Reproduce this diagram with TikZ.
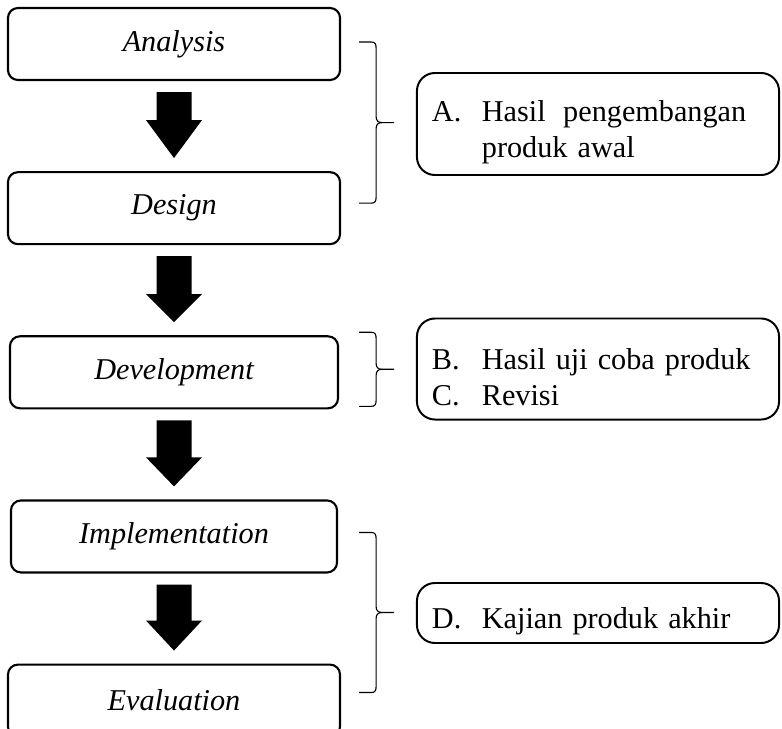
\documentclass[tikz,border=0pt]{standalone}
\usepackage{fontspec}
\setmainfont{Liberation Serif}
\usepackage{tikz}
\usetikzlibrary{positioning,calc}
\definecolor{ink}{HTML}{000000}
\tikzset{
  stage/.style={draw=ink,line width=1.5pt,rounded corners=0.25cm,fill=white,align=center,font=\fontsize{21.5}{25.6}\selectfont\itshape,minimum width=8.3cm,minimum height=1.8cm,inner sep=0pt},
  note/.style={draw=ink,line width=1.4pt,rounded corners=0.45cm,align=left,font=\fontsize{21.5}{25.6}\selectfont,text width=8.3cm,text height=26pt,inner xsep=0.375cm,inner ysep=0pt},
  brc/.style={draw=ink,line width=0.8pt}}
\newcommand{\itm}[1]{\makebox[35.5pt][l]{#1}}
% block arrow between two stages: from, to, head length
\newcommand{\blockarrow}[3]{%
  \coordinate (s) at ($(#1.south)+(0,11)$);
  \coordinate (t) at ($(#2.north)+(0,-13)$);
  \fill[ink] ($(s)+(-17.5,0)$) -- ($(s)+(17.5,0)$) -- ($(t)+(17.5,-#3)$) -- ($(t)+(28,-#3)$)
    -- (t) -- ($(t)+(-28,-#3)$) -- ($(t)+(-17.5,-#3)$) -- cycle;}
% right brace: top end, bottom end
\newcommand{\sidebrace}[2]{%
  \coordinate (bm) at ($(#1)!0.5!(#2)$);
  \draw[brc] (#1) -- ++(12,0) .. controls +(4,0) and +(0,-4) .. ++(5,6)
    -- ($(bm)+(17,-6)$) .. controls +(0,4) and +(-4,0) .. ($(bm)+(23,0)$) -- ++(12,0);
  \draw[brc] (#2) -- ++(12,0) .. controls +(4,0) and +(0,4) .. ++(5,-6)
    -- ($(bm)+(17,6)$) .. controls +(0,-4) and +(-4,0) .. ($(bm)+(23,0)$);}

\begin{document}
\begin{tikzpicture}[x=0.025cm,y=-0.025cm,node distance=2.25cm]
\useasboundingbox (0,0) rectangle (782,729);
% stages
\node[stage] (an) at (174,44) {Analysis};
\node[stage,below=of an] (de) {Design};
\node[stage,below=of de,minimum width=8.2cm] (dv) {Development};
\node[stage,below=of dv,minimum width=8.15cm] (im) {Implementation};
\node[stage,below=of im] (ev) {Evaluation};
\blockarrow{an}{de}{38}
\blockarrow{de}{dv}{28}
\blockarrow{dv}{im}{29}
\blockarrow{im}{ev}{30}
% results
\sidebrace{$(an.east)+(18,-2)$}{$(de.east)+(18,-5)$}
\sidebrace{$(dv.north east)+(20,-3)$}{$(dv.south east)+(20,-3)$}
\sidebrace{$(im.east)+(21,-4)$}{$(ev.north east)+(18,29)$}
\node[note,minimum height=2.55cm] (ra) at (598,124) {\itm{A.}\makebox[188pt][l]{Hasil\hfill pengembangan}\\\itm{}produk awal};
\node[note,minimum height=2.525cm] (rb) at (598,369) {\itm{B.}Hasil uji coba produk\\\itm{C.}Revisi};
\node[note,minimum height=1.5cm] (rd) at (598,613) {\itm{D.}Kajian produk akhir};
\end{tikzpicture}
\end{document}
